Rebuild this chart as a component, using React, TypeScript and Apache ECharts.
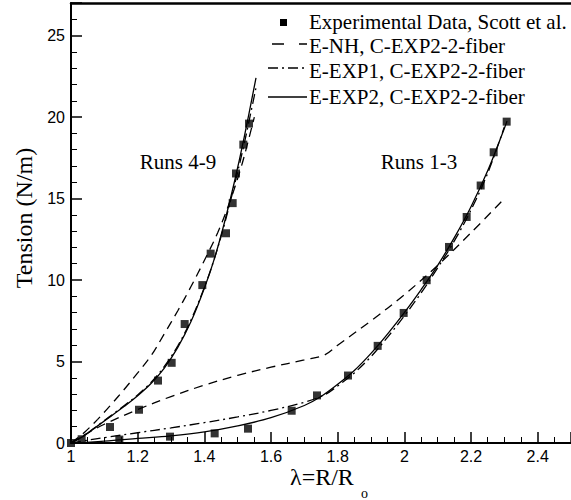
import React, { useEffect, useRef } from "react";
import * as echarts from "echarts";

// Experimental data, Scott et al. (Runs 4-9)
const exp49X = [1.0, 1.032, 1.117, 1.204, 1.261, 1.302, 1.341, 1.394, 1.419, 1.465, 1.485, 1.495, 1.517, 1.534];
const exp49Y = [0.0, 0.23, 0.98, 2.04, 3.83, 4.92, 7.3, 9.69, 11.62, 12.87, 14.72, 16.54, 18.31, 19.6];
// Experimental data, Scott et al. (Runs 1-3)
const exp13X = [1.145, 1.297, 1.431, 1.531, 1.662, 1.738, 1.831, 1.92, 1.998, 2.067, 2.134, 2.187, 2.229, 2.268, 2.307];
const exp13Y = [0.21, 0.39, 0.59, 0.88, 1.98, 2.92, 4.14, 5.96, 7.98, 9.99, 12.03, 13.87, 15.8, 17.84, 19.72];

// E-NH, Runs 4-9
const nh49X = [1.0, 1.04, 1.08, 1.12, 1.16, 1.2, 1.24, 1.28, 1.32, 1.36, 1.4, 1.44, 1.48, 1.51, 1.53, 1.55];
const nh49Y = [0, 0.65, 1.45, 2.35, 3.3, 4.3, 5.35, 6.7, 8.1, 9.6, 11.2, 12.9, 15.0, 16.9, 18.4, 20.0];
// E-EXP1, Runs 4-9
const e149X = [1.0, 1.04, 1.08, 1.12, 1.16, 1.2, 1.24, 1.28, 1.32, 1.36, 1.4, 1.43, 1.46, 1.49, 1.52, 1.555];
const e149Y = [0, 0.47, 1.08, 1.68, 2.3, 2.95, 3.72, 4.7, 5.95, 7.55, 9.55, 11.3, 13.4, 15.8, 18.4, 21.8];
// E-EXP2, Runs 4-9
const e249X = [1.0, 1.04, 1.08, 1.12, 1.16, 1.2, 1.24, 1.28, 1.32, 1.36, 1.4, 1.43, 1.46, 1.49, 1.52, 1.555];
const e249Y = [0, 0.45, 1.05, 1.65, 2.25, 2.9, 3.65, 4.6, 5.85, 7.45, 9.5, 11.3, 13.5, 16.0, 18.8, 22.4];

// E-NH, Runs 1-3
const nh13X = [1.0, 1.04, 1.1, 1.2, 1.3, 1.4, 1.5, 1.6, 1.7, 1.76, 1.8, 1.9, 2.0, 2.1, 2.2, 2.3];
const nh13Y = [0, 0.5, 1.15, 2.05, 2.85, 3.55, 4.15, 4.65, 5.1, 5.4, 6.0, 7.5, 9.1, 10.9, 12.9, 15.0];
// E-EXP1, Runs 1-3
const e113X = [1.0, 1.05, 1.1, 1.2, 1.3, 1.4, 1.5, 1.6, 1.7, 1.76, 1.8, 1.85, 1.9, 1.95, 2.0, 2.05, 2.1, 2.15, 2.2, 2.25, 2.3];
const e113Y = [0, 0.17, 0.33, 0.63, 0.93, 1.25, 1.6, 2.0, 2.5, 2.95, 3.5, 4.3, 5.3, 6.5, 7.8, 9.2, 10.75, 12.4, 14.3, 16.55, 19.4];
// E-EXP2, Runs 1-3
const e213X = [1.0, 1.1, 1.2, 1.3, 1.4, 1.5, 1.6, 1.7, 1.75, 1.8, 1.85, 1.9, 1.95, 2.0, 2.05, 2.1, 2.15, 2.2, 2.25, 2.3, 2.308];
const e213Y = [0, 0.12, 0.28, 0.44, 0.68, 1.05, 1.55, 2.3, 2.85, 3.6, 4.45, 5.5, 6.7, 8.0, 9.4, 10.9, 12.6, 14.5, 16.7, 19.3, 19.75];

const legendNames = [
  "Experimental Data, Scott et al.",
  "E-NH, C-EXP2-2-fiber",
  "E-EXP1, C-EXP2-2-fiber",
  "E-EXP2, C-EXP2-2-fiber",
];
const runLabels = ["Runs 4-9", "Runs 1-3"];
const xName = "λ=R/R";
const xNameSub = "o";
const yName = "Tension (N/m)";

function pairs(xs: number[], ys: number[]) {
  return xs.map((x, i) => [x, ys[i]]);
}

export default function App() {
  const ref = useRef<HTMLDivElement>(null);
  useEffect(() => {
    document.body.style.margin = "0";
    const chart = echarts.init(ref.current!, null, { renderer: "svg" });
    const serif = "Liberation Serif, Times New Roman, Times, DejaVu Serif, serif";
    const sans = "Liberation Sans, Arial, Helvetica, sans-serif";
    const lw = 1.3;
    const dashed = [9, 6];
    const dashDot = [10, 4, 2, 4];
    const lineSeries = (name: string, xs: number[], ys: number[], type: any) => ({
      type: "line",
      name,
      data: pairs(xs, ys),
      symbol: "none",
      showSymbol: false,
      smooth: 0.35,
      lineStyle: { color: "#000", width: lw, type },
      silent: true,
      z: 2,
    });
    const scatter = (name: string, xs: number[], ys: number[]) => ({
      type: "scatter",
      name,
      data: pairs(xs, ys),
      symbol: "rect",
      symbolSize: 8,
      itemStyle: { color: "#000" },
      silent: true,
      z: 3,
    });
    const tickStyle = { color: "#000", width: 1.5 };
    const minorStyle = { color: "#000", width: 1 };
    const txt = (text: string, x: number, y: number, size: number, align: string, extra: any = {}) => ({
      type: "text",
      x,
      y,
      ...extra,
      style: { text, font: `${size}px ${serif}`, fill: "#000", align, verticalAlign: "middle" },
    });

    const legendRowsY = [22, 46, 71, 97];
    const legendGraphics: any[] = legendNames.map((n, i) => txt(n, 309, legendRowsY[i], 21, "left"));
    legendGraphics.push({ type: "rect", shape: { x: 280, y: 19, width: 7, height: 7 }, style: { fill: "#000" } });
    legendGraphics.push({
      type: "line",
      shape: { x1: 272, y1: 44, x2: 307, y2: 44 },
      style: { stroke: "#000", lineWidth: lw, lineDash: [12, 15] },
    });
    legendGraphics.push({
      type: "line",
      shape: { x1: 268, y1: 68, x2: 307, y2: 68 },
      style: { stroke: "#000", lineWidth: lw, lineDash: dashDot },
    });
    legendGraphics.push({
      type: "line",
      shape: { x1: 268, y1: 97, x2: 307, y2: 97 },
      style: { stroke: "#000", lineWidth: lw },
    });

    chart.setOption({
      animation: false,
      backgroundColor: "#fff",
      grid: { left: 71, right: 0, top: 3, bottom: 57 },
      xAxis: [
        {
          type: "value",
          min: 1,
          max: 2.5,
          interval: 0.2,
          axisLine: { lineStyle: { color: "#000", width: 2 } },
          axisTick: { inside: true, length: 11, lineStyle: tickStyle },
          minorTick: { show: true, splitNumber: 4, length: 6, lineStyle: minorStyle },
          splitLine: { show: false },
          axisLabel: { color: "#000", fontFamily: sans, fontSize: 16, margin: 5, showMaxLabel: false },
        },
        {
          type: "value",
          position: "top",
          min: 1,
          max: 2.5,
          axisLine: { show: true, lineStyle: { color: "#000", width: 2.5 } },
          axisTick: { show: false },
          axisLabel: { show: false },
          splitLine: { show: false },
        },
      ],
      yAxis: {
        type: "value",
        min: 0,
        max: 27,
        interval: 5,
        axisLine: { show: true, lineStyle: { color: "#000", width: 2 } },
        axisTick: { show: true, inside: true, length: 11, lineStyle: tickStyle },
        minorTick: { show: true, splitNumber: 5, length: 6, lineStyle: minorStyle },
        splitLine: { show: false },
        axisLabel: { color: "#000", fontFamily: sans, fontSize: 16, margin: 6, showMaxLabel: false },
      },
      series: [
        lineSeries(legendNames[1], nh49X, nh49Y, dashed),
        lineSeries(legendNames[2], e149X, e149Y, dashDot),
        lineSeries(legendNames[3], e249X, e249Y, "solid"),
        lineSeries(legendNames[1], nh13X, nh13Y, dashed),
        lineSeries(legendNames[2], e113X, e113Y, dashDot),
        lineSeries(legendNames[3], e213X, e213Y, "solid"),
        scatter(legendNames[0], exp49X, exp49Y),
        scatter(legendNames[0], exp13X, exp13Y),
      ],
      graphic: [
        ...legendGraphics,
        txt(runLabels[0], 178, 162, 21, "center"),
        txt(runLabels[1], 419, 162, 21, "center"),
        txt(yName, 24, 218, 24, "center", { rotation: Math.PI / 2 }),
        txt(xName, 290, 477, 24, "left"),
        txt(xNameSub, 361, 493, 14, "left"),
      ],
    });
    return () => chart.dispose();
  }, []);
  return <div ref={ref} style={{ width: 571, height: 500 }} />;
}
